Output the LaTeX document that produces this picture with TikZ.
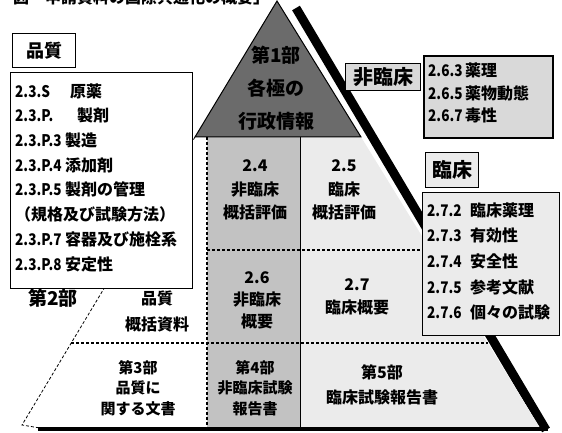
\documentclass[tikz,border=0pt]{standalone}
\usepackage{fontspec}
\usepackage{graphicx}
\newfontfamily\jp{Noto Sans CJK JP}
\newcommand\itemnum[2]{\makebox[#1][l]{\scalebox{0.85}[1]{#2}}}
\tikzset{
  ptxt/.style={font=\jp\bfseries\fontsize{16}{#1}\selectfont, align=center, inner sep=0pt},
  itemtxt/.style={font=\jp\bfseries\fontsize{16}{16}\selectfont, anchor=west, inner sep=0pt},
  labtxt/.style={font=\jp\bfseries\fontsize{#1}{#1}\selectfont, inner sep=0pt},
  dashline/.style={line width=1.2pt, dash pattern=on 3pt off 2pt},
  listbox/.style={draw=black, line width=1.4pt, anchor=north west, inner sep=0pt},
}
\begin{document}
\begin{tikzpicture}[x=1pt,y=-1pt]
\useasboundingbox (0,0) rectangle (562,433);
\fill[white] (0,0) rectangle (562,433);
% clipped caption line at the top
\begin{scope}
  \clip (0,-30) rectangle (562,5);
  \node[labtxt=16, anchor=south west] (caption) at (13,5) {図　申請資料の国際共通化の概要」};
\end{scope}
% shadow band of the pyramid
\draw[line width=9pt] (296,8) -- (546,430);
% lower body of the pyramid
\fill[white] (195,137) -- (361,137) -- (540,428) -- (20,428) -- cycle;
\fill[black!24] (207,137) rectangle (300,428);
\fill[black!8] (300,137) -- (361,137) -- (540,428) -- (300,428) -- cycle;
% top triangle
\filldraw[fill=black!58, draw=black, line width=1pt] (277,1) -- (195,137) -- (361,137) -- cycle;
% division lines
\draw[dashline] (207,137) -- (207,428);
\draw[line width=0.8pt] (300,137) -- (300,428);
\draw[dashline] (207,250) -- (430,250);
\draw[dashline] (71,343) -- (488,343);
\draw[line width=0.8pt, dash pattern=on 3pt off 2pt] (195,137) -- (22,425) -- (40,428);
\draw[line width=4pt] (38,429) -- (548,429);
% texts in the pyramid
\node[ptxt=33, font=\jp\bfseries\fontsize{19}{33}\selectfont] (part1) at (276,88) {第1部\\各極の\\行政情報};
\node[ptxt=23.5] (s24) at (255,190) {2.4\\非臨床\\概括評価};
\node[ptxt=23.5] (s25) at (344,190) {2.5\\臨床\\概括評価};
\node[ptxt=22] (s26) at (257,300) {2.6\\非臨床\\概要};
\node[ptxt=23] (s27) at (357,297) {2.7\\臨床概要};
\node[ptxt=26] (s23) at (157,311) {品質\\概括資料};
\node[ptxt=20.5, font=\jp\bfseries\fontsize{15}{20.5}\selectfont] (part3) at (138,388) {第3部\\品質に\\関する文書};
\node[ptxt=20.5, font=\jp\bfseries\fontsize{15}{20.5}\selectfont] (part4) at (255,388) {第4部\\非臨床試験\\報告書};
\node[ptxt=25] (part5) at (382,385) {第5部\\臨床試験報告書};
\node[labtxt=19] (part2) at (53,298) {第2部};
% quality label and list
\node[listbox, line width=1pt, fill=white, minimum width=63pt, minimum height=34pt] (qlab) at (12,33) {};
\node[labtxt=18] (qlabt) at (qlab.center) {品質};
\node[listbox, line width=1.2pt, fill=white, minimum width=182pt, minimum height=216pt] (qbox) at (10,72) {};
\node[itemtxt] (q1) at (15,91) {\itemnum{55pt}{2.3.S}原薬};
\node[itemtxt] (q2) at (15,115.7) {\itemnum{62pt}{2.3.P.}製剤};
\node[itemtxt] (q3) at (15,140.4) {\itemnum{50pt}{2.3.P.3}製造};
\node[itemtxt] (q4) at (15,165.1) {\itemnum{50pt}{2.3.P.4}添加剤};
\node[itemtxt] (q5) at (15,189.8) {\itemnum{50pt}{2.3.P.5}製剤の管理};
\node[itemtxt] (q6) at (15,214.5) {（規格及び試験方法）};
\node[itemtxt] (q7) at (15,239.2) {\itemnum{50pt}{2.3.P.7}容器及び施栓系};
\node[itemtxt] (q8) at (15,264) {\itemnum{50pt}{2.3.P.8}安定性};
% non-clinical label and list
\node[listbox, line width=1.2pt, fill=black!15, minimum width=75pt, minimum height=27pt] (nlab) at (345,63) {};
\node[labtxt=20] (nlabt) at (nlab.center) {非臨床};
\node[listbox, line width=1.6pt, fill=black!15, minimum width=129pt, minimum height=82pt] (nbox) at (423,55) {};
\node[itemtxt] (n1) at (428,70) {\itemnum{37pt}{2.6.3}薬理};
\node[itemtxt] (n2) at (428,93) {\itemnum{37pt}{2.6.5}薬物動態};
\node[itemtxt] (n3) at (428,115) {\itemnum{37pt}{2.6.7}毒性};
% clinical label and list
\node[listbox, line width=1pt, fill=black!8, minimum width=53pt, minimum height=35pt] (clab) at (425,152) {};
\node[labtxt=20] (clabt) at (clab.center) {臨床};
\node[listbox, line width=1.4pt, fill=black!8, minimum width=137pt, minimum height=143pt] (cbox) at (422,192) {};
\node[itemtxt] (c1) at (427,210) {\itemnum{43pt}{2.7.2}臨床薬理};
\node[itemtxt] (c2) at (427,235) {\itemnum{43pt}{2.7.3}有効性};
\node[itemtxt] (c3) at (427,261) {\itemnum{43pt}{2.7.4}安全性};
\node[itemtxt] (c4) at (427,287) {\itemnum{43pt}{2.7.5}参考文献};
\node[itemtxt] (c5) at (427,312) {\itemnum{43pt}{2.7.6}個々の試験};
\end{tikzpicture}
\end{document}
